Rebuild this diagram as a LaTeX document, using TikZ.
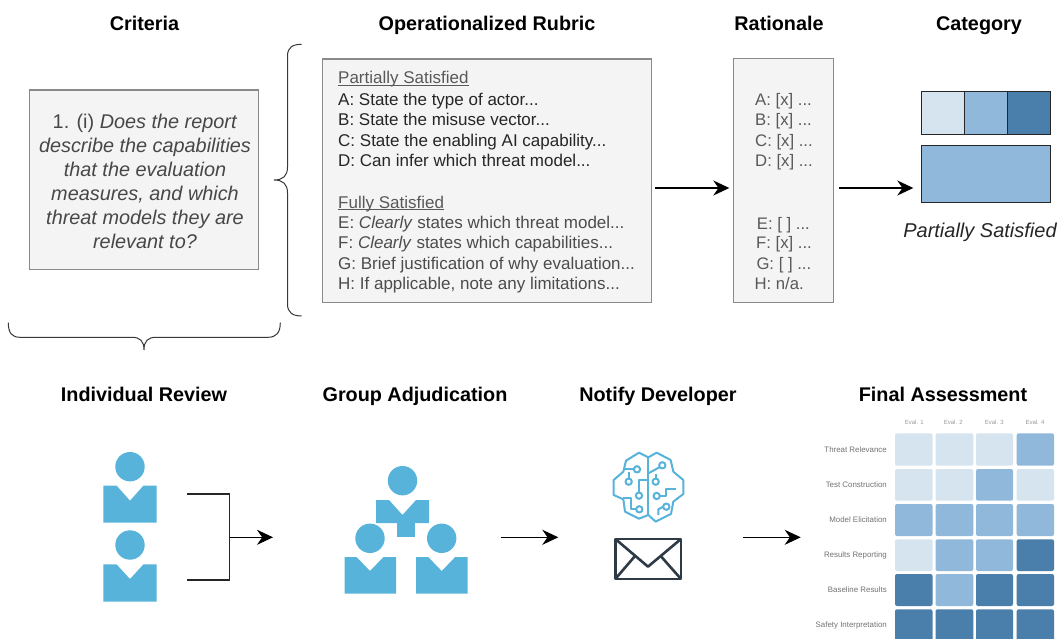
\documentclass[tikz,border=0pt]{standalone}
\usepackage{fontspec}
\setmainfont{Liberation Sans}
\usetikzlibrary{arrows.meta}
\definecolor{cellL}{HTML}{D6E4EF}
\definecolor{cellM}{HTML}{90B8DA}
\definecolor{cellD}{HTML}{4A7FAB}
\definecolor{person}{HTML}{57B3DA}
\definecolor{envl}{HTML}{2F3A47}
\definecolor{boxfill}{HTML}{F4F4F4}
\definecolor{boxline}{HTML}{8A8A8A}
\newcommand{\personshape}[7]{%
 % head x, head y, left, right, top, bottom, apex y
 \fill[person] (#1,#2) circle (14.7);
 \fill[person] (#3,#5) -- ({#1-13.5},#5) -- (#1,#7) -- ({#1+13.5},#5) -- (#4,#5) -- (#4,#6) -- (#3,#6) -- cycle;}
\tikzset{
 title/.style={font=\fontsize{19.8}{22}\selectfont\bfseries,anchor=base,inner sep=0pt},
 panel/.style={draw=boxline,fill=boxfill,line width=1.1pt},
 rubricline/.style={font=\fontsize{17}{20}\selectfont,anchor=base west,inner sep=0pt,text=black!85},
 rubriclow/.style={rubricline,text=black!70},
 rubrichead/.style={rubricline,text=black!65},
 ratline/.style={font=\fontsize{16.7}{20}\selectfont,anchor=base west,inner sep=0pt,text=black!65},
 crit/.style={font=\fontsize{19.85}{24}\selectfont,anchor=base,inner sep=0pt,text=black!72},
 flow/.style={draw=black,line width=1.2pt,-{Stealth[length=16pt,width=15pt]}},
 plain/.style={draw=black!85,line width=1.2pt},
 curly/.style={draw=black!78,line width=1pt},
 swatch/.style={draw=black!85,line width=1pt},
 cellbox/.style={rounded corners=2pt},
 rowlab/.style={font=\fontsize{7.9}{9}\selectfont,anchor=east,inner sep=0pt,text=black!55},
 collab/.style={font=\fontsize{6}{7}\selectfont,anchor=center,inner sep=0pt,text=black!40},
 brainline/.style={draw=person,line width=2pt,line join=round},
 envline/.style={draw=envl,line width=2.6pt,line join=round},
}
\begin{document}
\begin{tikzpicture}[x=1pt,y=-1pt]
\useasboundingbox (0,0) rectangle (1058,639);
\fill[white] (0,0) rectangle (1058,639);
% titles
\node[title] (t1) at (144.5,31) {Criteria};
\node[title] (t2) at (487,31) {Operationalized Rubric};
\node[title] (t3) at (779,31) {Rationale};
\node[title] (t4) at (979,31) {Category};
\node[title] (t5) at (144,401.5) {Individual Review};
\node[title] (t6) at (415,401.5) {Group Adjudication};
\node[title] (t7) at (658,401.5) {Notify Developer};
\node[title] (t8) at (943,401.5) {Final Assessment};
% criteria
\draw[panel] (29.5,90) rectangle (258.7,269.3);
\node[crit] (c1) at (145,128.3) {1. (i) \textit{Does the report}};
\node[crit] (c2) at (145,152.6) {\textit{describe the capabilities}};
\node[crit] (c3) at (145,176.8) {\textit{that the evaluation}};
\node[crit] (c4) at (145,200.5) {\textit{measures, and which}};
\node[crit] (c5) at (145,224.5) {\textit{threat models they are}};
\node[crit] (c6) at (145,248.5) {\textit{relevant to?}};
% braces
\draw[curly] (301.7,44.3) .. controls (293,44.3) and (287.5,47) .. (287.5,56) -- (287.5,167) .. controls (287.5,176) and (283,180) .. (274,180) .. controls (283,180) and (287.5,184) .. (287.5,193) -- (287.5,304) .. controls (287.5,313) and (293,316) .. (301.7,316);
\draw[curly] (8.3,322.7) .. controls (8.3,333) and (12,337.3) .. (20,337.3) -- (132,337.3) .. controls (140,337.3) and (144,341) .. (144,350) .. controls (144,341) and (148,337.3) .. (156,337.3) -- (268,337.3) .. controls (276,337.3) and (280.3,333) .. (280.3,322.7);
% rubric
\node[panel,minimum width=329pt,minimum height=243.2pt,anchor=north west,inner sep=0pt] (rubric) at (322,58.5) {};
\node[rubrichead] (r0) at (338,84) {\underline{\smash{Partially Satisfied}}};
\node[rubricline] (r1) at (338,106) {A: State the type of actor...};
\node[rubricline] (r2) at (338,125.5) {B: State the misuse vector...};
\node[rubricline] (r3) at (338,146.7) {C: State the enabling AI capability...};
\node[rubricline] (r4) at (338,166.7) {D: Can infer which threat model...};
\node[rubrichead] (r5) at (338,208.3) {\underline{\smash{Fully Satisfied}}};
\node[rubriclow] (r6) at (338,228.3) {E: \textit{Clearly} states which threat model...};
\node[rubriclow] (r7) at (338,248.3) {F: \textit{Clearly} states which capabilities...};
\node[rubriclow] (r8) at (338,269.3) {G: Brief justification of why evaluation...};
\node[rubriclow] (r9) at (338,290) {H: If applicable, note any limitations...};
% rationale
\node[panel,minimum width=100pt,minimum height=243.4pt,anchor=north west,inner sep=0pt] (rat) at (733.3,58.3) {};
\node[ratline] (a1) at (755,106) {A: [x] ...};
\node[ratline] (a2) at (755,125.7) {B: [x] ...};
\node[ratline] (a3) at (755,146.7) {C: [x] ...};
\node[ratline] (a4) at (755,166.7) {D: [x] ...};
\node[ratline] (a5) at (756.7,229.3) {E: [ ] ...};
\node[ratline] (a6) at (756,248.7) {F: [x] ...};
\node[ratline] (a7) at (756.3,269.3) {G: [ ] ...};
\node[ratline] (a8) at (754.3,290) {H: n/a.};
% category
\node[swatch,fill=cellL,minimum width=43.3pt,minimum height=43.3pt,anchor=north west,inner sep=0pt] (s1) at (921,90.7) {};
\node[swatch,fill=cellM,minimum width=43pt,minimum height=43.3pt,anchor=north west,inner sep=0pt] (s2) at (964.3,90.7) {};
\node[swatch,fill=cellD,minimum width=42.7pt,minimum height=43.3pt,anchor=north west,inner sep=0pt] (s3) at (1007.3,90.7) {};
\node[swatch,fill=cellM,minimum width=129pt,minimum height=57.3pt,anchor=north west,inner sep=0pt] (s4) at (921,144.7) {};
\node[font=\fontsize{20}{22}\selectfont\itshape,anchor=base,inner sep=0pt,text=black!85] (catl) at (980,237.7) {Partially Satisfied};
% upper arrows
\coordinate (lvl) at (0,188);
\draw[flow] ([xshift=3pt]rubric.east |- lvl) -- ([xshift=-4pt]rat.west |- lvl);
\draw[flow] ([xshift=5pt]rat.east |- lvl) -- ([xshift=-7.7pt]s4.west |- lvl);
% persons
\personshape{130}{466.7}{103.3}{156.5}{485.5}{522.5}{500.7}
\personshape{130}{545}{103.3}{156.5}{564.3}{601.7}{579}
\fill[person] (397,515) rectangle (415,537);
\personshape{402.5}{480.7}{376}{429}{500}{523}{515}
\personshape{370}{538.3}{344.7}{396}{557}{593.7}{571}
\personshape{441.7}{538.3}{416}{467.7}{557}{593.7}{571}
% lower connectors
\coordinate (j1) at (187,494); \coordinate (j2) at (187,580);
\coordinate (jc) at (229.7,537.3); \coordinate (jt) at (273,537.3);
\draw[plain] (j1) -| (jc) |- (j2);
\draw[flow] (jc) -- (jt);
\coordinate (b1) at (500.7,537.3); \coordinate (b2) at (558.3,537.3);
\coordinate (b3) at (743.3,537.3); \coordinate (b4) at (800.7,537.3);
\draw[flow] (b1) -- (b2);
\draw[flow] (b3) -- (b4);
% brain
\begin{scope}[shift={(570,430)},x=0.3333pt,y=-0.3333pt]
\draw[brainline] (235,82) -- (207,68) -- (168,92) -- (160,125) -- (131,150) -- (131,195) -- (160,208) -- (165,245) -- (207,266) -- (235,255) -- (257,275) -- (303,252) -- (310,215) -- (340,192) -- (340,150) -- (310,125) -- (302,90) -- (260,68) -- cycle;
\draw[brainline] (235,82) -- (235,255);
\draw[brainline] (165,118) -- (190,118);
\draw[brainline] (201,118) circle (9.5);
\draw[brainline] (176,125) -- (176,146);
\draw[brainline] (176,155) circle (9.5);
\draw[brainline] (235,150) -- (207,150) -- (207,188);
\draw[brainline] (207,197) circle (9.5);
\draw[brainline] (160,205) -- (182,205) -- (182,238) -- (199,238);
\draw[brainline] (208,238) circle (9.5);
\draw[brainline] (235,130) -- (268,112);
\draw[brainline] (277,106) circle (9.5);
\draw[brainline] (257,133) -- (257,146);
\draw[brainline] (257,155) circle (9.5);
\draw[brainline] (269,198) -- (288,198) -- (288,176) -- (318,176);
\draw[brainline] (260,198) circle (9.5);
\draw[brainline] (265,255) -- (265,238) -- (280,230);
\draw[brainline] (289,230) circle (9.5);
\end{scope}
% envelope
\begin{scope}[shift={(570,430)},x=0.3333pt,y=-0.3333pt]
\draw[envline] (136,327) rectangle (333,447);
\draw[envline] (136,327) -- (234,410) -- (333,327);
\draw[envline] (136,447) -- (195,378);
\draw[envline] (333,447) -- (272,378);
\end{scope}
% heatmap
\foreach \cx/\lab in {914.3/{Eval. 1},953.3/{Eval. 2},994.3/{Eval. 3},1035/{Eval. 4}}
  \node[collab] at (\cx,422.7) {\lab};
\foreach \ry/\rb/\lab in {433.3/465.7/{Threat Relevance},469/500.7/{Test Construction},504/536/{Model Elicitation},539.3/571/{Results Reporting},574/606/{Baseline Results},609.3/642/{Safety Interpretation}}
  \node[rowlab] at (887,{(\ry+\rb)/2}) {\lab};
\foreach \ry/\rb/\ca/\cb/\cc/\cd in {
 433.3/465.7/cellL/cellL/cellL/cellM,
 469/500.7/cellL/cellL/cellM/cellL,
 504/536/cellM/cellM/cellM/cellM,
 539.3/571/cellL/cellM/cellM/cellD,
 574/606/cellD/cellM/cellD/cellD,
 609.3/642/cellD/cellD/cellD/cellD}{
 \fill[\ca,cellbox] (895,\ry) rectangle (932.5,\rb);
 \fill[\cb,cellbox] (935.5,\ry) rectangle (973.3,\rb);
 \fill[\cc,cellbox] (976,\ry) rectangle (1013,\rb);
 \fill[\cd,cellbox] (1016.7,\ry) rectangle (1054,\rb);
}
\end{tikzpicture}
\end{document}
